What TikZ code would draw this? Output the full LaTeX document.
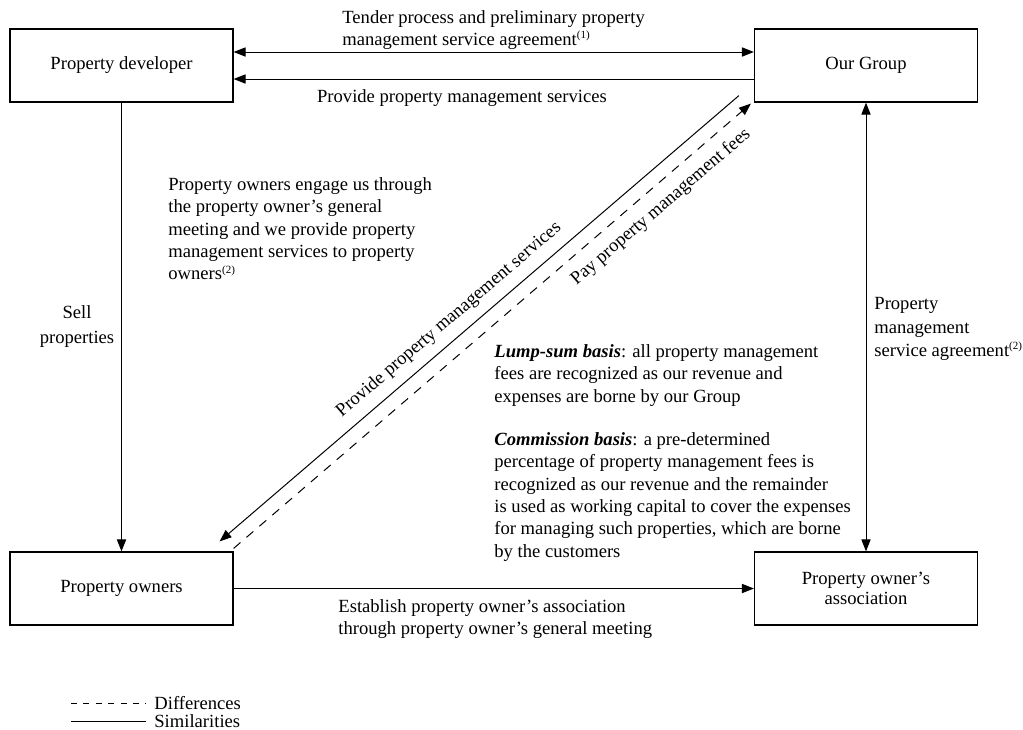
\documentclass[tikz,border=0pt]{standalone}
\usepackage{fontspec}
\setmainfont{Liberation Serif}
\usetikzlibrary{arrows.meta,calc}
\newcommand\noteref[1]{\raisebox{0.8ex}{\fontsize{5.5}{6}\selectfont(#1)}}

\begin{document}
\begin{tikzpicture}[x=0.5pt,y=-0.5pt,
  every node/.style={font=\fontsize{9.3}{11.2}\selectfont, inner sep=0pt},
  entity/.style={draw, line width=0.6pt, minimum width=111.5pt, minimum height=36.5pt, align=center},
  tip/.tip={Triangle[length=6pt,width=4.6pt]},
  link/.style={line width=0.5pt, -tip},
  dlink/.style={line width=0.5pt, tip-tip},
  note/.style={align=left, anchor=north west},
  diff/.style={dash pattern=on 4.5pt off 4pt},
]
\useasboundingbox (0,0) rectangle (1023,729);

% the four parties
\node[entity] (pd)  at (121.5,65.5)  {Property developer};
\node[entity] (og)  at (866,65.5)    {Our Group};
\node[entity] (po)  at (121.5,588.5) {Property owners};
\node[entity, font=\fontsize{9.3}{10}\selectfont] (poa) at (866,588.5) {Property owner’s\\association};

% straight connectors between the parties
\draw[dlink] ([yshift=6.75pt]pd.east) -- ([yshift=6.75pt]og.west);
\draw[link] ([yshift=-6.75pt]og.west) -- ([yshift=-6.75pt]pd.east);
\draw[link] (pd.south) -- (po.north);
\draw[dlink] (og.south) -- (poa.north);
\draw[link] (po.east) -- (poa.west);

% diagonal pair between the group and the owners
\coordinate (sA) at ($(og.south west)+(-15,-7)$);
\coordinate (sB) at ($(po.north east)+(-14,-10)$);
\coordinate (dA) at ($(po.north east)+(0,-3)$);
\coordinate (dB) at ($(og.south west)+(-3,1)$);
\draw[link] (sA) -- (sB);
\draw[link, diff] (dA) -- (dB);

% labels
\node[note] (tender) at (342,10) {Tender process and preliminary property\\management service agreement\noteref{1}};
\node (svc) at (462,98) {Provide property management services};
\node[note] (engage) at (168,177) {Property owners engage us through\\the property owner’s general\\meeting and we provide property\\management services to property\\owners\noteref{2}};
\node[align=center, font=\fontsize{9.3}{12.5}\selectfont] (sell) at (77,327) {Sell\\properties};
\node[note, font=\fontsize{9.3}{11.75}\selectfont] (psa) at (874,297) {Property\\management\\service agreement\noteref{2}};
\node[note] (lump) at (494,344) {\textbf{\textit{Lump-sum basis}}: all property management\\fees are recognized as our revenue and\\expenses are borne by our Group};
\node[note] (comm) at (494,432) {\textbf{\textit{Commission basis}}: a pre-determined\\percentage of property management fees is\\recognized as our revenue and the remainder\\is used as working capital to cover the expenses\\for managing such properties, which are borne\\by the customers};
\node[note] (estab) at (338,599) {Establish property owner’s association\\through property owner’s general meeting};
\node[rotate=40.6] (provlbl) at (449,320) {Provide property management services};
\node[rotate=40.6] (paylbl) at (661,207) {Pay property management fees};

% legend
\node[anchor=west] (difflbl) at (154,703) {Differences};
\node[anchor=west] (simlbl) at (154,721) {Similarities};
\coordinate (dstart) at (71,703);
\coordinate (sstart) at (71,721);
\draw[line width=0.5pt, dash pattern=on 3pt off 3.2pt] (dstart) -- ([xshift=-4pt]difflbl.west);
\draw[line width=0.5pt] (sstart) -- ([xshift=-4pt]simlbl.west);
\end{tikzpicture}
\end{document}
